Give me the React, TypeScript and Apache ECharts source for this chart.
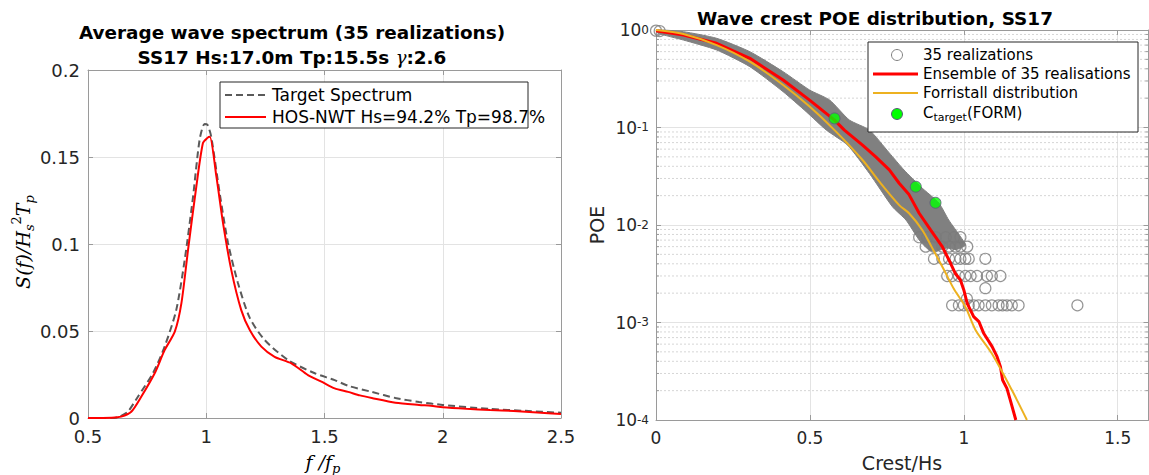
import React, { useEffect, useRef } from 'react';
import * as echarts from 'echarts';

// ---------- Left panel: average wave spectrum ----------
const targetF = [0.5, 0.55, 0.6, 0.63, 0.65, 0.669, 0.711, 0.775, 0.824, 0.873, 0.909, 0.944, 0.972, 0.993, 1.005, 1.021, 1.057, 1.092, 1.134, 1.184, 1.247, 1.346, 1.459, 1.543, 1.6, 1.7, 1.8, 1.9, 2.0, 2.2, 2.35, 2.5];
const targetS = [0, 0, 0, 0.0005, 0.002, 0.0036, 0.0122, 0.0259, 0.041, 0.062, 0.091, 0.127, 0.16, 0.169, 0.1685, 0.1617, 0.129, 0.1006, 0.0776, 0.0575, 0.0448, 0.0333, 0.0257, 0.0218, 0.0185, 0.015, 0.0115, 0.0092, 0.0075, 0.0052, 0.0041, 0.003];

const hosF = [0.5, 0.6, 0.64, 0.683, 0.725, 0.782, 0.824, 0.867, 0.895, 0.923, 0.958, 0.986, 1.005, 1.015, 1.043, 1.071, 1.106, 1.148, 1.184, 1.233, 1.289, 1.36, 1.43, 1.487, 1.543, 1.6, 1.65, 1.7, 1.8, 1.9, 1.95, 2.0, 2.1, 2.2, 2.3, 2.4, 2.5];
const hosS = [0, 0.0002, 0.0008, 0.0036, 0.0122, 0.0257, 0.039, 0.0496, 0.066, 0.0966, 0.133, 0.158, 0.161, 0.1617, 0.1387, 0.112, 0.085, 0.062, 0.0506, 0.041, 0.0352, 0.0314, 0.0247, 0.0209, 0.017, 0.015, 0.013, 0.0115, 0.0088, 0.0075, 0.007, 0.0062, 0.0053, 0.0046, 0.004, 0.0031, 0.0023];

// ---------- Right panel: wave crest POE ----------
const ensembleCrest = [0.0, 0.089, 0.197, 0.305, 0.413, 0.499, 0.58, 0.612, 0.671, 0.714, 0.758, 0.79, 0.822, 0.855, 0.892, 0.93, 0.957, 0.973, 0.989, 1.0, 1.011, 1.032, 1.049, 1.065, 1.092, 1.108, 1.119, 1.126, 1.14, 1.151, 1.169];
const ensemblePoe = [0.98, 0.889, 0.73, 0.513, 0.307, 0.191, 0.119, 0.094, 0.066, 0.05, 0.0367, 0.0268, 0.0205, 0.0132, 0.0089, 0.006, 0.00405, 0.00316, 0.00273, 0.00216, 0.00157, 0.00115, 0.00102, 0.00077, 0.000565, 0.000446, 0.000352, 0.000257, 0.000211, 0.00016, 0.0001];

const forristallCrest = [0.0, 0.089, 0.197, 0.305, 0.413, 0.499, 0.58, 0.671, 0.725, 0.79, 0.822, 0.865, 0.895, 0.935, 0.968, 1.005, 1.038, 1.091, 1.156, 1.205];
const forristallPoe = [1.0, 0.91, 0.7, 0.473, 0.273, 0.164, 0.094, 0.0464, 0.028, 0.016, 0.0132, 0.0089, 0.006, 0.0035, 0.0022, 0.00145, 0.00084, 0.00048, 0.000203, 0.0001];

const formCrest = [0.58, 0.844, 0.908];
const formPoe = [0.124, 0.0247, 0.0169];

// dense cloud of the 35 realizations: outer upper and lower envelope
const bandUpperCrest = [0.005, 0.089, 0.197, 0.305, 0.413, 0.499, 0.564, 0.628, 0.693, 0.758, 0.806, 0.861, 0.919, 0.951, 0.99, 1.005, 0.975, 0.945];
const bandUpperPoe = [1.0, 0.961, 0.822, 0.599, 0.3735, 0.2424, 0.1914, 0.1194, 0.0943, 0.0548, 0.0366, 0.0245, 0.0168, 0.01125, 0.00753, 0.0062, 0.0056, 0.0058];
const bandLowerCrest = [0.005, 0.089, 0.197, 0.305, 0.413, 0.488, 0.553, 0.622, 0.693, 0.768, 0.812, 0.855, 0.885, 0.91];
const bandLowerPoe = [0.93, 0.789, 0.6236, 0.4204, 0.2329, 0.1453, 0.0943, 0.0661, 0.0339, 0.0154, 0.01125, 0.00702, 0.0056, 0.0054];

// individual realization circles (start cap and sparse tail at discrete POE levels)
const capCrest = [0.0, 0.012];
const capPoe = [0.985, 0.975];
const tailPoeLevels = [0.0075, 0.006, 0.0045, 0.003, 0.00225, 0.00175, 0.0015];
const tailCrestRows = [
  [0.855, 0.881, 0.909, 0.941, 0.968, 0.989],
  [0.876, 0.903, 0.93, 0.952, 0.973, 0.989, 1.011],
  [0.903, 0.93, 0.952, 0.973, 0.989, 1.005, 1.016, 1.07],
  [0.946, 0.962, 0.984, 1.005, 1.022, 1.043, 1.075, 1.091, 1.119],
  [1.07],
  [1.01],
  [0.962, 0.984, 1.0, 1.016, 1.032, 1.048, 1.07, 1.091, 1.113, 1.126, 1.14, 1.156, 1.178, 1.369],
];

const minorPoe = [
  2e-4, 3e-4, 4e-4, 5e-4, 6e-4, 7e-4, 8e-4, 9e-4,
  2e-3, 3e-3, 4e-3, 5e-3, 6e-3, 7e-3, 8e-3, 9e-3,
  2e-2, 3e-2, 4e-2, 5e-2, 6e-2, 7e-2, 8e-2, 9e-2,
  2e-1, 3e-1, 4e-1, 5e-1, 6e-1, 7e-1, 8e-1, 9e-1,
];

const SANS = '"DejaVu Sans", sans-serif';
const SERIF = '"DejaVu Serif", serif';
const AX = '#9a9a9a';
const LBL = '#262626';
const GRID = '#e3e3e3';

const zip = (a: number[], b: number[]) => a.map((v, i) => [v, b[i]]);

export default function App() {
  const ref = useRef<HTMLDivElement>(null);
  useEffect(() => {
    if (!ref.current) return;
    const chart = echarts.init(ref.current, null, { renderer: 'svg' });

    const bandPolygon = [...zip(bandUpperCrest, bandUpperPoe), ...zip(bandLowerCrest, bandLowerPoe).reverse()];
    const realizationPts: number[][] = [...zip(capCrest, capPoe)];
    tailCrestRows.forEach((row, i) => row.forEach((c) => realizationPts.push([c, tailPoeLevels[i]])));

    const linAxisCommon = {
      axisLine: { show: true, onZero: false, lineStyle: { color: AX, width: 1 } },
      axisTick: { show: true, inside: true, length: 5, lineStyle: { color: AX } },
    };

    const supRich = {
      b: { fontSize: 17, fontFamily: SANS, color: LBL, lineHeight: 17, padding: [7, 0, 0, 0], verticalAlign: 'bottom' },
      e: { fontSize: 12, fontFamily: SANS, color: LBL, lineHeight: 12, padding: [2, 0, 0, 0], verticalAlign: 'top' },
    };

    const mathRich = {
      i: { fontFamily: SERIF, fontStyle: 'italic', fontSize: 19, color: LBL, lineHeight: 26, verticalAlign: 'middle' },
      sub: { fontFamily: SERIF, fontStyle: 'italic', fontSize: 13, color: LBL, lineHeight: 13, verticalAlign: 'bottom' },
      sup: { fontFamily: SERIF, fontStyle: 'normal', fontSize: 13, color: LBL, lineHeight: 13, verticalAlign: 'top' },
    };

    const option: any = {
      animation: false,
      backgroundColor: '#ffffff',
      grid: [
        { left: 88, top: 70, width: 473, height: 348 },
        { left: 656, top: 30, width: 492.5, height: 390 },
      ],
      xAxis: [
        {
          gridIndex: 0, type: 'value', min: 0.5, max: 2.5, interval: 0.5, position: 'bottom',
          ...linAxisCommon,
          axisLabel: { color: LBL, fontSize: 18, fontFamily: SANS, margin: 9 },
          splitLine: { show: true, lineStyle: { color: GRID } },
        },
        {
          gridIndex: 0, type: 'value', min: 0.5, max: 2.5, interval: 0.5, position: 'top',
          ...linAxisCommon, axisLabel: { show: false }, splitLine: { show: false },
        },
        {
          gridIndex: 1, type: 'value', min: 0, max: 1.6, interval: 0.5, position: 'bottom',
          ...linAxisCommon,
          axisLabel: { color: LBL, fontSize: 17, fontFamily: SANS, margin: 9, showMaxLabel: false },
          splitLine: { show: true, lineStyle: { color: GRID } },
        },
        {
          gridIndex: 1, type: 'value', min: 0, max: 1.6, interval: 0.5, position: 'top',
          ...linAxisCommon, axisLabel: { show: false }, splitLine: { show: false },
        },
      ],
      yAxis: [
        {
          gridIndex: 0, type: 'value', min: 0, max: 0.2, interval: 0.05, position: 'left',
          ...linAxisCommon,
          axisLabel: { color: LBL, fontSize: 18, fontFamily: SANS, margin: 8 },
          splitLine: { show: true, lineStyle: { color: GRID } },
        },
        {
          gridIndex: 0, type: 'value', min: 0, max: 0.2, interval: 0.05, position: 'right',
          ...linAxisCommon, axisLabel: { show: false }, splitLine: { show: false },
        },
        {
          gridIndex: 1, type: 'log', logBase: 10, min: 1e-4, max: 1, position: 'left',
          ...linAxisCommon,
          axisLabel: {
            margin: 7,
            formatter: (v: number) => `{b|10}{e|${Math.round(Math.log10(v))}}`,
            rich: supRich,
          },
          splitLine: { show: true, lineStyle: { color: GRID } },
        },
        {
          gridIndex: 1, type: 'log', logBase: 10, min: 1e-4, max: 1, position: 'right',
          ...linAxisCommon, axisLabel: { show: false }, splitLine: { show: false },
        },
      ],
      series: [
        {
          name: 'Target Spectrum', type: 'line', xAxisIndex: 0, yAxisIndex: 0,
          data: zip(targetF, targetS), showSymbol: false, smooth: 0.25,
          lineStyle: { color: '#5a5a5a', width: 2, type: [7, 4] }, z: 2,
        },
        {
          name: 'HOS-NWT', type: 'line', xAxisIndex: 0, yAxisIndex: 0,
          data: zip(hosF, hosS), showSymbol: false, smooth: 0.25,
          lineStyle: { color: '#ff0000', width: 2 }, z: 3,
        },
        {
          name: 'minor grid', type: 'custom', xAxisIndex: 2, yAxisIndex: 2, silent: true, z: 0,
          data: minorPoe.map((p) => [0, p]),
          renderItem: (params: any, api: any) => {
            const y = api.coord([0, api.value(1)])[1];
            const cs = params.coordSys;
            return {
              type: 'group',
              children: [
                { type: 'line', shape: { x1: cs.x, y1: y, x2: cs.x + cs.width, y2: y }, style: { stroke: '#d6d6d6', lineWidth: 1, lineDash: [2, 2] } },
                { type: 'line', shape: { x1: cs.x, y1: y, x2: cs.x + 3, y2: y }, style: { stroke: AX, lineWidth: 1 } },
                { type: 'line', shape: { x1: cs.x + cs.width - 3, y1: y, x2: cs.x + cs.width, y2: y }, style: { stroke: AX, lineWidth: 1 } },
              ],
            };
          },
        },
        {
          name: 'cloud', type: 'custom', xAxisIndex: 2, yAxisIndex: 2, silent: true, z: 1,
          data: [[0.5, 0.1]],
          renderItem: (_params: any, api: any) => ({
            type: 'polygon',
            shape: { points: bandPolygon.map((p) => api.coord(p)), smooth: 0.2 },
            style: { fill: '#808080', stroke: '#808080', lineWidth: 1 },
          }),
        },
        {
          name: '35 realizations', type: 'scatter', xAxisIndex: 2, yAxisIndex: 2, z: 2,
          data: realizationPts, symbol: 'circle', symbolSize: 11,
          itemStyle: { color: 'rgba(0,0,0,0)', borderColor: '#7a7a7a', borderWidth: 1.2 },
        },
        {
          name: 'Ensemble of 35 realisations', type: 'line', xAxisIndex: 2, yAxisIndex: 2, z: 3,
          data: zip(ensembleCrest, ensemblePoe), showSymbol: false,
          lineStyle: { color: '#ff0000', width: 3 },
        },
        {
          name: 'Forristall distribution', type: 'line', xAxisIndex: 2, yAxisIndex: 2, z: 4,
          data: zip(forristallCrest, forristallPoe), showSymbol: false, smooth: 0.3,
          lineStyle: { color: '#EDB120', width: 2 },
        },
        {
          name: 'C_target(FORM)', type: 'scatter', xAxisIndex: 2, yAxisIndex: 2, z: 5,
          data: zip(formCrest, formPoe), symbol: 'circle', symbolSize: 11,
          itemStyle: { color: '#00ff00', borderColor: '#5a5a7a', borderWidth: 1 },
        },
      ],
      graphic: [
        // titles
        { type: 'text', x: 292, y: 32, z: 100, style: { text: 'Average wave spectrum (35 realizations)', font: `bold 18.4px ${SANS}`, fill: '#000', align: 'center', verticalAlign: 'middle' } },
        {
          type: 'text', x: 292, y: 57, z: 100,
          style: {
            text: '{b|SS17 Hs:17.0m Tp:15.5s }{g|γ}{b|:2.6}', align: 'center', verticalAlign: 'middle',
            rich: {
              b: { fontFamily: SANS, fontWeight: 'bold', fontSize: 18.4, color: '#000' },
              g: { fontFamily: SERIF, fontStyle: 'italic', fontSize: 18, color: '#000' },
            },
          },
        },
        { type: 'text', x: 875, y: 18, z: 100, style: { text: 'Wave crest POE distribution, SS17', font: `bold 18.4px ${SANS}`, fill: '#000', align: 'center', verticalAlign: 'middle' } },
        // axis names
        {
          type: 'text', x: 23, y: 242, rotation: Math.PI / 2, z: 100,
          style: { text: '{i|S(f)/H}{sub|s}{sup|2}{i|T}{sub|p}', rich: mathRich, align: 'center', verticalAlign: 'middle' },
        },
        {
          type: 'text', x: 323, y: 462, z: 100,
          style: { text: '{i|f /f}{sub|p}', rich: mathRich, align: 'center', verticalAlign: 'middle' },
        },
        { type: 'text', x: 597, y: 225, rotation: Math.PI / 2, z: 100, style: { text: 'POE', font: `19px ${SANS}`, fill: LBL, align: 'center', verticalAlign: 'middle' } },
        { type: 'text', x: 902, y: 463, z: 100, style: { text: 'Crest/Hs', font: `19px ${SANS}`, fill: LBL, align: 'center', verticalAlign: 'middle' } },
        // left legend
        { type: 'rect', z: 100, shape: { x: 220, y: 82, width: 308, height: 46 }, style: { fill: '#fff', stroke: '#262626', lineWidth: 1 } },
        { type: 'line', z: 101, shape: { x1: 225, y1: 95, x2: 266, y2: 95 }, style: { stroke: '#5a5a5a', lineWidth: 2, lineDash: [7, 4] } },
        { type: 'text', z: 101, x: 272, y: 95, style: { text: 'Target Spectrum', font: `17px ${SANS}`, fill: '#000', verticalAlign: 'middle' } },
        { type: 'line', z: 101, shape: { x1: 225, y1: 117, x2: 266, y2: 117 }, style: { stroke: '#ff0000', lineWidth: 2 } },
        { type: 'text', z: 101, x: 272, y: 117, style: { text: 'HOS-NWT Hs=94.2% Tp=98.7%', font: `17px ${SANS}`, fill: '#000', verticalAlign: 'middle' } },
        // right legend
        { type: 'rect', z: 100, shape: { x: 868, y: 42, width: 270, height: 90 }, style: { fill: '#fff', stroke: '#262626', lineWidth: 1 } },
        { type: 'circle', z: 101, shape: { cx: 897, cy: 55, r: 5.5 }, style: { fill: 'none', stroke: '#808080', lineWidth: 1 } },
        { type: 'text', z: 101, x: 923, y: 55, style: { text: '35 realizations', font: `15px ${SANS}`, fill: '#000', verticalAlign: 'middle' } },
        { type: 'line', z: 101, shape: { x1: 873, y1: 74, x2: 918, y2: 74 }, style: { stroke: '#ff0000', lineWidth: 3 } },
        { type: 'text', z: 101, x: 923, y: 74, style: { text: 'Ensemble of 35 realisations', font: `15px ${SANS}`, fill: '#000', verticalAlign: 'middle' } },
        { type: 'line', z: 101, shape: { x1: 873, y1: 93, x2: 918, y2: 93 }, style: { stroke: '#EDB120', lineWidth: 2 } },
        { type: 'text', z: 101, x: 923, y: 93, style: { text: 'Forristall distribution', font: `15px ${SANS}`, fill: '#000', verticalAlign: 'middle' } },
        { type: 'circle', z: 101, shape: { cx: 897, cy: 114, r: 5.5 }, style: { fill: '#00ff00', stroke: '#5a5a7a', lineWidth: 1 } },
        {
          type: 'text', z: 101, x: 923, y: 114,
          style: {
            text: '{n|C}{s|target}{n|(FORM)}', verticalAlign: 'middle',
            rich: {
              n: { fontFamily: SANS, fontSize: 15, color: '#000', lineHeight: 18, verticalAlign: 'top' },
              s: { fontFamily: SANS, fontSize: 11, color: '#000', lineHeight: 11, verticalAlign: 'bottom' },
            },
          },
        },
      ],
    };

    chart.setOption(option);
    return () => chart.dispose();
  }, []);

  return <div ref={ref} style={{ position: 'absolute', left: 0, top: 0, width: 1149, height: 475 }} />;
}
